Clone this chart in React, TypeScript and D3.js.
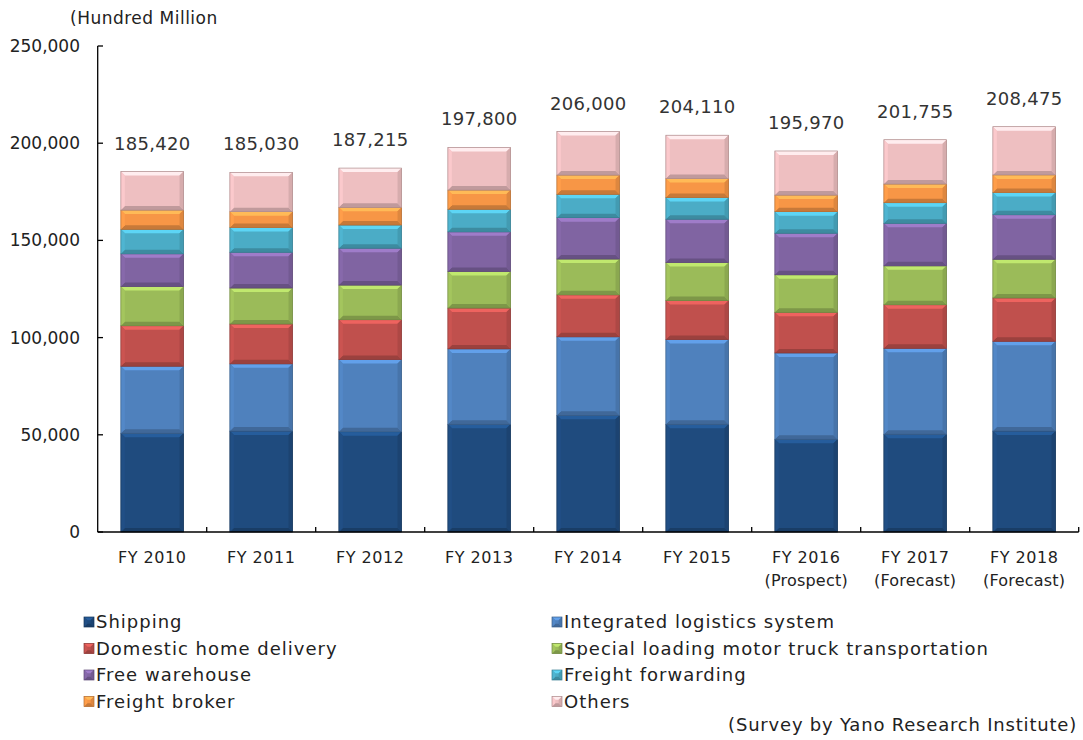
import React from 'react';
import * as d3 from 'd3';

// fiscal years and notes under them
const years = ['FY 2010', 'FY 2011', 'FY 2012', 'FY 2013', 'FY 2014', 'FY 2015', 'FY 2016', 'FY 2017', 'FY 2018'];
const yearNotes = ['', '', '', '', '', '', '(Prospect)', '(Forecast)', '(Forecast)'];
const totals = [185420, 185030, 187215, 197800, 206000, 204110, 195970, 201755, 208475];

// segment values (hundred million yen)
const shipping = [50800, 51900, 51600, 55400, 60000, 55400, 47700, 50300, 51900];
const integrated = [34500, 34600, 37100, 38800, 40400, 43600, 44400, 44200, 46200];
const homeDelivery = [20800, 20500, 20500, 21000, 21600, 20100, 20900, 22400, 22300];
const specialTruck = [20200, 18500, 17800, 18800, 18400, 19500, 19300, 20000, 19900];
const freeWarehouse = [16800, 18400, 19000, 20400, 21300, 22300, 21400, 21900, 22900];
const forwarding = [12600, 12700, 11900, 11600, 12000, 11200, 11100, 10600, 11400];
const broker = [9900, 8200, 9100, 9900, 9900, 9800, 8500, 9600, 9100];
const others = [19800, 20200, 20200, 21900, 22400, 22200, 22700, 22800, 24800];

const seriesNames = [
  'Shipping',
  'Integrated logistics system',
  'Domestic home delivery',
  'Special loading motor truck transportation',
  'Free warehouse',
  'Freight forwarding',
  'Freight broker',
  'Others',
];
const seriesValues = [shipping, integrated, homeDelivery, specialTruck, freeWarehouse, forwarding, broker, others];
const colors = ['#1f4b7e', '#4f81bd', '#c0504d', '#9bbb59', '#8064a2', '#4bacc6', '#f79646', '#eebfc1'];
const yTicks = [0, 50000, 100000, 150000, 200000, 250000];

const FONT = '"DejaVu Sans", sans-serif';

// Excel-like bevelled box
function Bevel({ x, y, w, h, color }: { x: number; y: number; w: number; h: number; color: string }) {
  const b = Math.min(4, h / 3, w / 3);
  const c = d3.color(color)!;
  const x1 = x + w;
  const y1 = y + h;
  return (
    <g>
      <rect x={x} y={y} width={w} height={h} fill={color} />
      <polygon points={`${x},${y} ${x1},${y} ${x1 - b},${y + b} ${x + b},${y + b}`} fill={c.brighter(0.6).toString()} />
      <polygon points={`${x},${y1} ${x1},${y1} ${x1 - b},${y1 - b} ${x + b},${y1 - b}`} fill={c.darker(0.6).toString()} />
      <polygon points={`${x},${y} ${x + b},${y + b} ${x + b},${y1 - b} ${x},${y1}`} fill={c.brighter(0.15).toString()} />
      <polygon points={`${x1},${y} ${x1 - b},${y + b} ${x1 - b},${y1 - b} ${x1},${y1}`} fill={c.darker(0.3).toString()} />
      <rect x={x} y={y} width={w} height={h} fill="none" stroke={c.darker(0.9).toString()} strokeWidth={0.7} />
    </g>
  );
}

export default function App() {
  const table = years.map((yr, i) => {
    const row: Record<string, any> = { year: yr };
    seriesNames.forEach((s, k) => (row[s] = seriesValues[k][i]));
    return row;
  });
  const stacked = d3.stack<any>().keys(seriesNames)(table);

  const x = d3.scaleBand().domain(years).range([97.7, 1078.7]).paddingInner(0.425).paddingOuter(0.2125);
  const y = d3.scaleLinear().domain([0, 250000]).range([532, 46]);
  const fmt = d3.format(',');
  const step = x.step();

  return (
    <svg width={1083} height={740} style={{ position: 'absolute', left: 0, top: 0, background: '#fff' }}>
      <text x={70} y={24} fontFamily={FONT} fontSize={17} letterSpacing={0.5} fill="#222">(Hundred Million</text>

      {/* y axis */}
      <line x1={97.7} x2={97.7} y1={y(250000)} y2={y(0)} stroke="#000" strokeWidth={1.3} />
      {yTicks.map((t) => (
        <g key={t}>
          <line x1={97.7} x2={103} y1={y(t)} y2={y(t)} stroke="#000" strokeWidth={1.3} />
          <text x={80} y={y(t)} dy="0.35em" textAnchor="end" fontFamily={FONT} fontSize={17} fill="#222">
            {fmt(t)}
          </text>
        </g>
      ))}

      {/* bars */}
      {stacked.map((layer, k) => (
        <g key={layer.key}>
          {layer.map((d, i) => (
            <Bevel
              key={i}
              x={x(years[i])!}
              y={y(d[1])}
              w={x.bandwidth()}
              h={y(d[0]) - y(d[1])}
              color={colors[k]}
            />
          ))}
        </g>
      ))}

      {/* x axis */}
      <line x1={97.7} x2={1078.7} y1={y(0)} y2={y(0)} stroke="#000" strokeWidth={1.3} />
      {years.map((yr, i) => {
        const bx = x(yr)! - x.step() * 0.2125 + step;
        return <line key={i} x1={bx} x2={bx} y1={y(0)} y2={y(0) - 5} stroke="#000" strokeWidth={1.3} />;
      })}
      {years.map((yr, i) => {
        const cx = x(yr)! + x.bandwidth() / 2;
        return (
          <g key={yr}>
            <text x={cx} y={563} textAnchor="middle" fontFamily={FONT} fontSize={16} letterSpacing={0.5} fill="#222">
              {yr}
            </text>
            {yearNotes[i] && (
              <text x={cx} y={586} textAnchor="middle" fontFamily={FONT} fontSize={16} letterSpacing={0.2} fill="#222">
                {yearNotes[i]}
              </text>
            )}
          </g>
        );
      })}

      {/* totals above bars */}
      {totals.map((t, i) => (
        <text
          key={i}
          x={x(years[i])! + x.bandwidth() / 2}
          y={y(d3.sum(seriesValues, (s) => s[i])) - 22}
          textAnchor="middle"
          fontFamily={FONT}
          fontSize={18}
          letterSpacing={0.3}
          fill="#333"
        >
          {fmt(t)}
        </text>
      ))}

      {/* legend */}
      {seriesNames.map((s, k) => {
        const col = k % 2;
        const row = Math.floor(k / 2);
        const lx = col === 0 ? 84 : 552;
        const ly = 622 + row * 26.5;
        return (
          <g key={s}>
            <Bevel x={lx} y={ly - 5} w={10} h={10} color={colors[k]} />
            <text x={lx + 12} y={ly} dy="0.35em" fontFamily={FONT} fontSize={18} letterSpacing={1} fill="#222">
              {s}
            </text>
          </g>
        );
      })}

      <text x={1077} y={731} textAnchor="end" fontFamily={FONT} fontSize={18} letterSpacing={0.8} fill="#222">
        (Survey by Yano Research Institute)
      </text>
    </svg>
  );
}
